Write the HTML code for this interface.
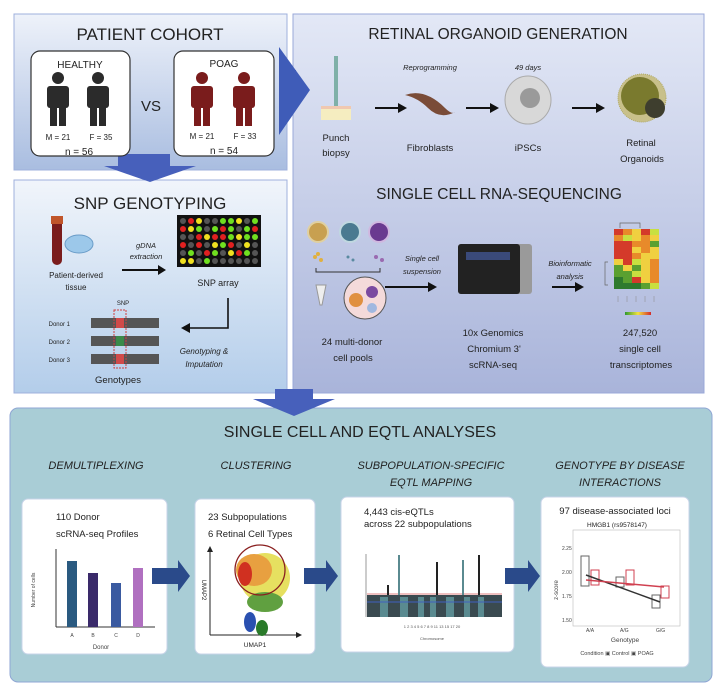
<!DOCTYPE html>
<html><head><meta charset="utf-8"><style>
html,body{margin:0;padding:0;background:#fff;}
svg{display:block;font-family:"Liberation Sans",Arial,sans-serif;}
</style></head><body>
<svg width="718" height="694" viewBox="0 0 718 694" xmlns="http://www.w3.org/2000/svg">
<defs>
<linearGradient id="gL" x1="0" y1="0" x2="0" y2="1"><stop offset="0" stop-color="#eef2fa"/><stop offset="1" stop-color="#a9bde0"/></linearGradient>
<linearGradient id="gS" x1="0" y1="0" x2="0" y2="1"><stop offset="0" stop-color="#f1f5fb"/><stop offset="1" stop-color="#b3cdea"/></linearGradient>
<linearGradient id="gR" x1="0" y1="0" x2="0" y2="1"><stop offset="0" stop-color="#e3e8f6"/><stop offset="1" stop-color="#a9b4da"/></linearGradient>
<linearGradient id="hm" x1="0" y1="0" x2="1" y2="0"><stop offset="0" stop-color="#2e9a2e"/><stop offset=".5" stop-color="#f2e240"/><stop offset="1" stop-color="#d42a2a"/></linearGradient>
</defs>
<rect x="14" y="14" width="273" height="156" fill="url(#gL)" stroke="#9fb0dc"/>
<rect x="14" y="180" width="273" height="213" fill="url(#gS)" stroke="#9fb0dc"/>
<rect x="293" y="14" width="411" height="379" fill="url(#gR)" stroke="#9aa8d8"/>
<rect x="10" y="408" width="702" height="274" rx="8" fill="#a9cdd6" stroke="#8fa6d4"/>
<polygon points="279,47 310,90 279,135" fill="#3f5cb8"/>
<polygon points="283,70 283,110 296,110 296,70" fill="#3f5cb8"/>
<polygon points="118,154 170,154 170,166 196,166 150,182 104,166 118,166" fill="#4760bb"/>
<polygon points="275,389 313,389 313,399 335,399 294,416 253,399 275,399" fill="#4760bb"/>
<text x="150" y="40" font-size="17" text-anchor="middle" fill="#222">PATIENT COHORT</text>
<rect x="31" y="51" width="99" height="105" rx="9" fill="#fff" stroke="#333" stroke-width="1.2"/>
<rect x="174" y="51" width="100" height="105" rx="9" fill="#fff" stroke="#333" stroke-width="1.2"/>
<text x="80" y="68" font-size="10" text-anchor="middle" fill="#222">HEALTHY</text>
<text x="224" y="67" font-size="10" text-anchor="middle" fill="#222">POAG</text>
<g fill="#2b2b2b">
<circle cx="58" cy="78" r="6"/><rect x="47" y="86" width="22" height="22" rx="3"/><rect x="50" y="104" width="7" height="22"/><rect x="59" y="104" width="7" height="22"/>
<circle cx="98" cy="78" r="6"/><rect x="87" y="86" width="22" height="22" rx="3"/><rect x="90" y="104" width="7" height="22"/><rect x="99" y="104" width="7" height="22"/>
</g>
<g fill="#7a1c1c">
<circle cx="202" cy="78" r="6"/><rect x="191" y="86" width="22" height="22" rx="3"/><rect x="194" y="104" width="7" height="22"/><rect x="203" y="104" width="7" height="22"/>
<circle cx="244" cy="78" r="6"/><rect x="233" y="86" width="22" height="22" rx="3"/><rect x="236" y="104" width="7" height="22"/><rect x="245" y="104" width="7" height="22"/>
</g>
<text x="151" y="111" font-size="15" text-anchor="middle" fill="#222">VS</text>
<text x="58" y="140" font-size="8" text-anchor="middle" fill="#222">M = 21</text>
<text x="101" y="140" font-size="8" text-anchor="middle" fill="#222">F = 35</text>
<text x="79" y="155" font-size="10" text-anchor="middle" fill="#222">n = 56</text>
<text x="202" y="139" font-size="8" text-anchor="middle" fill="#222">M = 21</text>
<text x="245" y="139" font-size="8" text-anchor="middle" fill="#222">F = 33</text>
<text x="224" y="154" font-size="10" text-anchor="middle" fill="#222">n = 54</text>
<text x="150" y="209" font-size="17" text-anchor="middle" fill="#222">SNP GENOTYPING</text>
<rect x="52" y="217" width="10" height="48" rx="5" fill="#7a1c1c"/><rect x="51" y="216" width="12" height="8" fill="#c0552a"/>
<ellipse cx="79" cy="244" rx="14" ry="9" fill="#9cc8ea" stroke="#6a9cc8"/>
<text x="76" y="278" font-size="8" text-anchor="middle" fill="#222">Patient-derived</text>
<text x="76" y="290" font-size="8" text-anchor="middle" fill="#222">tissue</text>
<text x="146" y="248" font-size="7.5" font-style="italic" text-anchor="middle" fill="#222">gDNA</text>
<text x="146" y="259" font-size="7.5" font-style="italic" text-anchor="middle" fill="#222">extraction</text>
<line x1="122" y1="270" x2="160" y2="270" stroke="#111" stroke-width="2"/><polygon points="158,265 166,270 158,275" fill="#111"/>
<rect x="177" y="215" width="84" height="52" fill="#111"/>
<g>
<circle cx="183" cy="221" r="3" fill="#555"/><circle cx="191" cy="221" r="3" fill="#e02020"/><circle cx="199" cy="221" r="3" fill="#f0e020"/><circle cx="207" cy="221" r="3" fill="#555"/><circle cx="215" cy="221" r="3" fill="#555"/><circle cx="223" cy="221" r="3" fill="#70e020"/><circle cx="231" cy="221" r="3" fill="#70e020"/><circle cx="239" cy="221" r="3" fill="#f0e020"/><circle cx="247" cy="221" r="3" fill="#555"/><circle cx="255" cy="221" r="3" fill="#70e020"/>
<circle cx="183" cy="229" r="3" fill="#e02020"/><circle cx="191" cy="229" r="3" fill="#f0e020"/><circle cx="199" cy="229" r="3" fill="#70e020"/><circle cx="207" cy="229" r="3" fill="#555"/><circle cx="215" cy="229" r="3" fill="#70e020"/><circle cx="223" cy="229" r="3" fill="#e02020"/><circle cx="231" cy="229" r="3" fill="#70e020"/><circle cx="239" cy="229" r="3" fill="#555"/><circle cx="247" cy="229" r="3" fill="#70e020"/><circle cx="255" cy="229" r="3" fill="#e02020"/>
<circle cx="183" cy="237" r="3" fill="#555"/><circle cx="191" cy="237" r="3" fill="#555"/><circle cx="199" cy="237" r="3" fill="#e02020"/><circle cx="207" cy="237" r="3" fill="#f0e020"/><circle cx="215" cy="237" r="3" fill="#e02020"/><circle cx="223" cy="237" r="3" fill="#e02020"/><circle cx="231" cy="237" r="3" fill="#70e020"/><circle cx="239" cy="237" r="3" fill="#f0e020"/><circle cx="247" cy="237" r="3" fill="#70e020"/><circle cx="255" cy="237" r="3" fill="#70e020"/>
<circle cx="183" cy="245" r="3" fill="#e02020"/><circle cx="191" cy="245" r="3" fill="#555"/><circle cx="199" cy="245" r="3" fill="#e02020"/><circle cx="207" cy="245" r="3" fill="#555"/><circle cx="215" cy="245" r="3" fill="#f0e020"/><circle cx="223" cy="245" r="3" fill="#70e020"/><circle cx="231" cy="245" r="3" fill="#e02020"/><circle cx="239" cy="245" r="3" fill="#555"/><circle cx="247" cy="245" r="3" fill="#f0e020"/><circle cx="255" cy="245" r="3" fill="#555"/>
<circle cx="183" cy="253" r="3" fill="#555"/><circle cx="191" cy="253" r="3" fill="#70e020"/><circle cx="199" cy="253" r="3" fill="#555"/><circle cx="207" cy="253" r="3" fill="#e02020"/><circle cx="215" cy="253" r="3" fill="#70e020"/><circle cx="223" cy="253" r="3" fill="#555"/><circle cx="231" cy="253" r="3" fill="#f0e020"/><circle cx="239" cy="253" r="3" fill="#e02020"/><circle cx="247" cy="253" r="3" fill="#70e020"/><circle cx="255" cy="253" r="3" fill="#555"/>
<circle cx="183" cy="261" r="3" fill="#f0e020"/><circle cx="191" cy="261" r="3" fill="#f0e020"/><circle cx="199" cy="261" r="3" fill="#555"/><circle cx="207" cy="261" r="3" fill="#70e020"/><circle cx="215" cy="261" r="3" fill="#555"/><circle cx="223" cy="261" r="3" fill="#555"/><circle cx="231" cy="261" r="3" fill="#555"/><circle cx="239" cy="261" r="3" fill="#555"/><circle cx="247" cy="261" r="3" fill="#555"/><circle cx="255" cy="261" r="3" fill="#555"/>
</g>
<text x="218" y="286" font-size="9" text-anchor="middle" fill="#222">SNP array</text>
<text x="123" y="305" font-size="6" text-anchor="middle" fill="#222">SNP</text>
<text x="70" y="326" font-size="6" text-anchor="end" fill="#222">Donor 1</text>
<text x="70" y="344" font-size="6" text-anchor="end" fill="#222">Donor 2</text>
<text x="70" y="362" font-size="6" text-anchor="end" fill="#222">Donor 3</text>
<g fill="#555"><rect x="91" y="318" width="68" height="10"/><rect x="91" y="336" width="68" height="10"/><rect x="91" y="354" width="68" height="10"/></g>
<rect x="116" y="318" width="8" height="10" fill="#d04a4a"/><rect x="116" y="336" width="8" height="10" fill="#3a8a4a"/><rect x="116" y="354" width="8" height="10" fill="#d04a4a"/>
<rect x="114" y="310" width="12" height="58" fill="none" stroke="#d04040" stroke-dasharray="2,1"/>
<polyline points="228,298 228,328 188,328" fill="none" stroke="#111" stroke-width="1.6"/><polygon points="190,323 181,328 190,333" fill="#111"/>
<text x="204" y="354" font-size="8" font-style="italic" text-anchor="middle" fill="#222">Genotyping &amp;</text>
<text x="204" y="367" font-size="8" font-style="italic" text-anchor="middle" fill="#222">Imputation</text>
<text x="118" y="383" font-size="9.5" text-anchor="middle" fill="#222">Genotypes</text>
<text x="498" y="39" font-size="15.5" text-anchor="middle" fill="#222">RETINAL ORGANOID GENERATION</text>
<rect x="334" y="56" width="4" height="50" fill="#7fb0a8"/><rect x="321" y="106" width="30" height="14" fill="#f5edc0"/><rect x="321" y="106" width="30" height="3" fill="#f0c8b0"/>
<text x="336" y="141" font-size="9.5" text-anchor="middle" fill="#222">Punch</text>
<text x="336" y="156" font-size="9.5" text-anchor="middle" fill="#222">biopsy</text>
<text x="430" y="70" font-size="7.5" font-style="italic" text-anchor="middle" fill="#222">Reprogramming</text>
<path d="M405 95 Q425 88 445 108 Q452 115 455 112 Q440 120 428 108 Q418 98 405 95Z" fill="#7a4c38"/>
<text x="430" y="151" font-size="9.5" text-anchor="middle" fill="#222">Fibroblasts</text>
<text x="528" y="70" font-size="7.5" font-style="italic" text-anchor="middle" fill="#222">49 days</text>
<ellipse cx="528" cy="100" rx="23" ry="24" fill="#d8d8d8" stroke="#aaa"/><circle cx="530" cy="98" r="10" fill="#9a9a9a"/>
<text x="528" y="151" font-size="9.5" text-anchor="middle" fill="#222">iPSCs</text>
<circle cx="642" cy="98" r="24" fill="#c8c08a" stroke="#b0a860" stroke-dasharray="1,1"/><circle cx="640" cy="96" r="19" fill="#7a7a2e"/><circle cx="655" cy="108" r="10" fill="#3e3e2e"/>
<text x="641" y="146" font-size="9.5" text-anchor="middle" fill="#222">Retinal</text>
<text x="642" y="162" font-size="9.5" text-anchor="middle" fill="#222">Organoids</text>
<g stroke="#111" stroke-width="2"><line x1="375" y1="108" x2="400" y2="108"/><line x1="466" y1="108" x2="492" y2="108"/><line x1="572" y1="108" x2="598" y2="108"/><line x1="385" y1="287" x2="430" y2="287"/><line x1="552" y1="287" x2="577" y2="287"/></g>
<g fill="#111"><polygon points="398,103 407,108 398,113"/><polygon points="490,103 499,108 490,113"/><polygon points="596,103 605,108 596,113"/><polygon points="428,282 437,287 428,292"/><polygon points="575,282 584,287 575,292"/></g>
<text x="499" y="199" font-size="15.5" text-anchor="middle" fill="#222">SINGLE CELL RNA-SEQUENCING</text>
<circle cx="318" cy="232" r="10" fill="#c8a050" stroke="#e0d0a0" stroke-width="2"/><circle cx="350" cy="232" r="10" fill="#4a7a90" stroke="#c0d8e0" stroke-width="2"/><circle cx="379" cy="232" r="10" fill="#6a3a90" stroke="#d0b8e0" stroke-width="2"/>
<g fill="#e0b040"><circle cx="315" cy="257" r="2"/><circle cx="321" cy="260" r="2"/><circle cx="318" cy="254" r="2"/></g>
<g fill="#5a8aa0"><circle cx="348" cy="257" r="1.5"/><circle cx="353" cy="260" r="1.5"/></g>
<g fill="#9a6ab0"><circle cx="376" cy="257" r="2"/><circle cx="382" cy="260" r="2"/></g>
<polyline points="316,268 316,272 380,272 380,268" fill="none" stroke="#333"/>
<path d="M316 285 L326 285 L322 305 L320 305Z" fill="#eee" stroke="#999"/>
<circle cx="365" cy="298" r="21" fill="#f4dada" stroke="#555"/><circle cx="356" cy="300" r="7" fill="#e09040"/><circle cx="372" cy="292" r="6" fill="#7a4aa0"/><circle cx="372" cy="308" r="5" fill="#a0b8e0"/>
<text x="352" y="345" font-size="9.5" text-anchor="middle" fill="#222">24 multi-donor</text>
<text x="353" y="361" font-size="9.5" text-anchor="middle" fill="#222">cell pools</text>
<text x="422" y="261" font-size="7.5" font-style="italic" text-anchor="middle" fill="#222">Single cell</text>
<text x="422" y="274" font-size="7.5" font-style="italic" text-anchor="middle" fill="#222">suspension</text>
<rect x="458" y="244" width="74" height="50" rx="3" fill="#9a9a9a"/><rect x="458" y="244" width="62" height="50" rx="3" fill="#222"/><rect x="466" y="252" width="44" height="8" fill="#3a4a7a"/>
<text x="493" y="336" font-size="9.5" text-anchor="middle" fill="#222">10x Genomics</text>
<text x="494" y="352" font-size="9.5" text-anchor="middle" fill="#222">Chromium 3'</text>
<text x="493" y="368" font-size="9.5" text-anchor="middle" fill="#222">scRNA-seq</text>
<text x="570" y="266" font-size="7.5" font-style="italic" text-anchor="middle" fill="#222">Bioinformatic</text>
<text x="570" y="279" font-size="7.5" font-style="italic" text-anchor="middle" fill="#222">analysis</text>
<polyline points="608,262 605,262 605,285 608,285" fill="none" stroke="#666" stroke-width=".7"/>
<polyline points="620,228 620,223 640,223 640,228" fill="none" stroke="#666" stroke-width=".7"/>
<g>
<rect x="614" y="229" width="9" height="6" fill="#d43a2a"/><rect x="623" y="229" width="9" height="6" fill="#e88a2a"/><rect x="632" y="229" width="9" height="6" fill="#f0d040"/><rect x="641" y="229" width="9" height="6" fill="#d43a2a"/><rect x="650" y="229" width="9" height="6" fill="#c8e040"/>
<rect x="614" y="235" width="9" height="6" fill="#e88a2a"/><rect x="623" y="235" width="9" height="6" fill="#c8e040"/><rect x="632" y="235" width="9" height="6" fill="#f0d040"/><rect x="641" y="235" width="9" height="6" fill="#e88a2a"/><rect x="650" y="235" width="9" height="6" fill="#f0d040"/>
<rect x="614" y="241" width="9" height="6" fill="#d43a2a"/><rect x="623" y="241" width="9" height="6" fill="#d43a2a"/><rect x="632" y="241" width="9" height="6" fill="#e88a2a"/><rect x="641" y="241" width="9" height="6" fill="#e88a2a"/><rect x="650" y="241" width="9" height="6" fill="#5aa030"/>
<rect x="614" y="247" width="9" height="6" fill="#d43a2a"/><rect x="623" y="247" width="9" height="6" fill="#d43a2a"/><rect x="632" y="247" width="9" height="6" fill="#f0d040"/><rect x="641" y="247" width="9" height="6" fill="#e88a2a"/><rect x="650" y="247" width="9" height="6" fill="#f0d040"/>
<rect x="614" y="253" width="9" height="6" fill="#d43a2a"/><rect x="623" y="253" width="9" height="6" fill="#d43a2a"/><rect x="632" y="253" width="9" height="6" fill="#e88a2a"/><rect x="641" y="253" width="9" height="6" fill="#f0d040"/><rect x="650" y="253" width="9" height="6" fill="#f0d040"/>
<rect x="614" y="259" width="9" height="6" fill="#f0d040"/><rect x="623" y="259" width="9" height="6" fill="#d43a2a"/><rect x="632" y="259" width="9" height="6" fill="#c8e040"/><rect x="641" y="259" width="9" height="6" fill="#f0d040"/><rect x="650" y="259" width="9" height="6" fill="#e88a2a"/>
<rect x="614" y="265" width="9" height="6" fill="#5aa030"/><rect x="623" y="265" width="9" height="6" fill="#f0d040"/><rect x="632" y="265" width="9" height="6" fill="#5aa030"/><rect x="641" y="265" width="9" height="6" fill="#f0d040"/><rect x="650" y="265" width="9" height="6" fill="#e88a2a"/>
<rect x="614" y="271" width="9" height="6" fill="#5aa030"/><rect x="623" y="271" width="9" height="6" fill="#5aa030"/><rect x="632" y="271" width="9" height="6" fill="#c8e040"/><rect x="641" y="271" width="9" height="6" fill="#f0d040"/><rect x="650" y="271" width="9" height="6" fill="#e88a2a"/>
<rect x="614" y="277" width="9" height="6" fill="#2e7a2e"/><rect x="623" y="277" width="9" height="6" fill="#5aa030"/><rect x="632" y="277" width="9" height="6" fill="#d43a2a"/><rect x="641" y="277" width="9" height="6" fill="#f0d040"/><rect x="650" y="277" width="9" height="6" fill="#e88a2a"/>
<rect x="614" y="283" width="9" height="6" fill="#2e7a2e"/><rect x="623" y="283" width="9" height="6" fill="#2e7a2e"/><rect x="632" y="283" width="9" height="6" fill="#2e7a2e"/><rect x="641" y="283" width="9" height="6" fill="#5aa030"/><rect x="650" y="283" width="9" height="6" fill="#c8e040"/>
</g>
<g stroke="#888" stroke-width=".5"><line x1="618" y1="296" x2="618" y2="302"/><line x1="627" y1="296" x2="627" y2="302"/><line x1="636" y1="296" x2="636" y2="302"/><line x1="645" y1="296" x2="645" y2="302"/><line x1="654" y1="296" x2="654" y2="302"/></g>
<rect x="625" y="312" width="26" height="3" fill="url(#hm)"/>
<text x="640" y="336" font-size="9.5" text-anchor="middle" fill="#222">247,520</text>
<text x="640" y="352" font-size="9.5" text-anchor="middle" fill="#222">single cell</text>
<text x="641" y="368" font-size="9.5" text-anchor="middle" fill="#222">transcriptomes</text>
<text x="360" y="437" font-size="16" text-anchor="middle" fill="#222">SINGLE CELL AND EQTL ANALYSES</text>
<g font-size="11" font-style="italic" text-anchor="middle" fill="#222">
<text x="96" y="469">DEMULTIPLEXING</text>
<text x="256" y="469">CLUSTERING</text>
<text x="431" y="469">SUBPOPULATION-SPECIFIC</text>
<text x="431" y="486">EQTL MAPPING</text>
<text x="620" y="469">GENOTYPE BY DISEASE</text>
<text x="620" y="486">INTERACTIONS</text>
</g>
<rect x="22" y="499" width="145" height="155" rx="6" fill="#fff" stroke="#c8d4e8"/>
<rect x="195" y="499" width="120" height="155" rx="6" fill="#fff" stroke="#c8d4e8"/>
<rect x="341" y="497" width="173" height="155" rx="6" fill="#fff" stroke="#c8d4e8"/>
<rect x="541" y="497" width="148" height="170" rx="6" fill="#fff" stroke="#c8d4e8"/>
<g fill="#2a4a8a"><polygon points="152,568 178,568 178,560 190,576 178,592 178,584 152,584"/><polygon points="304,568 326,568 326,560 338,576 326,592 326,584 304,584"/><polygon points="505,568 528,568 528,560 540,576 528,592 528,584 505,584"/></g>
<text x="56" y="520" font-size="9.5" fill="#222">110 Donor</text>
<text x="56" y="537" font-size="9.5" fill="#222">scRNA-seq Profiles</text>
<line x1="56" y1="549" x2="56" y2="627" stroke="#333"/><line x1="56" y1="627" x2="155" y2="627" stroke="#333"/>
<rect x="67" y="561" width="10" height="66" fill="#2a5a80"/><rect x="88" y="573" width="10" height="54" fill="#3a2a6a"/><rect x="111" y="583" width="10" height="44" fill="#3a5aa0"/><rect x="133" y="568" width="10" height="59" fill="#b070c0"/>
<g font-size="5" fill="#444" text-anchor="middle"><text x="72" y="637">A</text><text x="93" y="637">B</text><text x="116" y="637">C</text><text x="138" y="637">D</text><text x="101" y="649" font-size="6">Donor</text></g>
<text x="35" y="590" font-size="5" fill="#444" transform="rotate(-90 35 590)" text-anchor="middle">Number of cells</text>
<text x="208" y="520" font-size="9.5" fill="#222">23 Subpopulations</text>
<text x="208" y="537" font-size="9.5" fill="#222">6 Retinal Cell Types</text>
<line x1="210" y1="635" x2="210" y2="550" stroke="#222"/><polygon points="207,552 210,546 213,552" fill="#222"/>
<line x1="210" y1="635" x2="298" y2="635" stroke="#222"/><polygon points="296,632 302,635 296,638" fill="#222"/>
<text x="202" y="590" font-size="6" fill="#222" transform="rotate(90 202 590)" text-anchor="middle">UMAP2</text>
<text x="255" y="647" font-size="6.5" fill="#222" text-anchor="middle">UMAP1</text>
<ellipse cx="265" cy="578" rx="25" ry="25" fill="#e6e060"/><ellipse cx="254" cy="570" rx="18" ry="16" fill="#e8a040"/><ellipse cx="245" cy="574" rx="7" ry="12" fill="#d03020"/><ellipse cx="265" cy="602" rx="18" ry="10" fill="#60a040"/><ellipse cx="250" cy="622" rx="6" ry="10" fill="#2a50b0"/><ellipse cx="262" cy="628" rx="6" ry="8" fill="#2a7a2a"/>
<circle cx="260" cy="570" r="25" fill="none" stroke="#8a2020" stroke-width="1.3"/>
<text x="364" y="515" font-size="9.5" fill="#222">4,443 cis-eQTLs</text>
<text x="364" y="527" font-size="9.5" fill="#222">across 22 subpopulations</text>
<line x1="366" y1="554" x2="366" y2="617" stroke="#555" stroke-width=".6"/>
<rect x="367" y="595" width="135" height="22" fill="#3a4a50"/>
<g fill="#5a8a90"><rect x="380" y="597" width="8" height="20"/><rect x="400" y="597" width="8" height="20"/><rect x="418" y="597" width="6" height="20"/><rect x="430" y="597" width="6" height="20"/><rect x="446" y="597" width="8" height="20"/><rect x="464" y="597" width="6" height="20"/><rect x="478" y="597" width="6" height="20"/></g>
<line x1="367" y1="594" x2="502" y2="594" stroke="#e08080"/><line x1="367" y1="602" x2="502" y2="602" stroke="#4060c0"/>
<g stroke="#5a8a90" stroke-width="2"><line x1="399" y1="555" x2="399" y2="595"/><line x1="463" y1="560" x2="463" y2="595"/></g>
<g stroke="#222" stroke-width="2"><line x1="437" y1="562" x2="437" y2="595"/><line x1="479" y1="555" x2="479" y2="595"/><line x1="388" y1="585" x2="388" y2="595"/></g>
<text x="432" y="640" font-size="4" fill="#555" text-anchor="middle">Chromosome</text>
<text x="432" y="628" font-size="4" fill="#555" text-anchor="middle">1  2  3  4  5  6  7  8  9  11  13  15 17 20</text>
<text x="615" y="514" font-size="9.5" fill="#222" text-anchor="middle">97 disease-associated loci</text>
<text x="617" y="527" font-size="6.5" fill="#222" text-anchor="middle">HMGB1 (rs9578147)</text>
<rect x="573" y="530" width="107" height="96" fill="#fff" stroke="#bbb" stroke-width=".6"/>
<rect x="581" y="556" width="8" height="30" fill="#fff" stroke="#666"/><rect x="591" y="570" width="8" height="15" fill="#fff" stroke="#d04050"/>
<rect x="616" y="577" width="8" height="10" fill="#fff" stroke="#666"/><rect x="626" y="570" width="8" height="15" fill="#fff" stroke="#d04050"/>
<rect x="652" y="595" width="8" height="13" fill="#fff" stroke="#666"/><rect x="661" y="586" width="8" height="12" fill="#fff" stroke="#d04050"/>
<line x1="586" y1="575" x2="660" y2="602" stroke="#333" stroke-width="1.5"/><line x1="586" y1="580" x2="664" y2="587" stroke="#d04050" stroke-width="1.5"/>
<g font-size="5" fill="#444"><text x="562" y="550">2.25</text><text x="562" y="574">2.00</text><text x="562" y="598">1.75</text><text x="562" y="622">1.50</text>
<text x="586" y="632">A/A</text><text x="620" y="632">A/G</text><text x="656" y="632">G/G</text></g>
<text x="625" y="642" font-size="6.5" fill="#444" text-anchor="middle">Genotype</text>
<text x="558" y="590" font-size="6" fill="#444" transform="rotate(-90 558 590)" text-anchor="middle">z-score</text>
<text x="617" y="655" font-size="5.5" fill="#444" text-anchor="middle">Condition ▣ Control ▣ POAG</text>
</svg>
</body></html>
